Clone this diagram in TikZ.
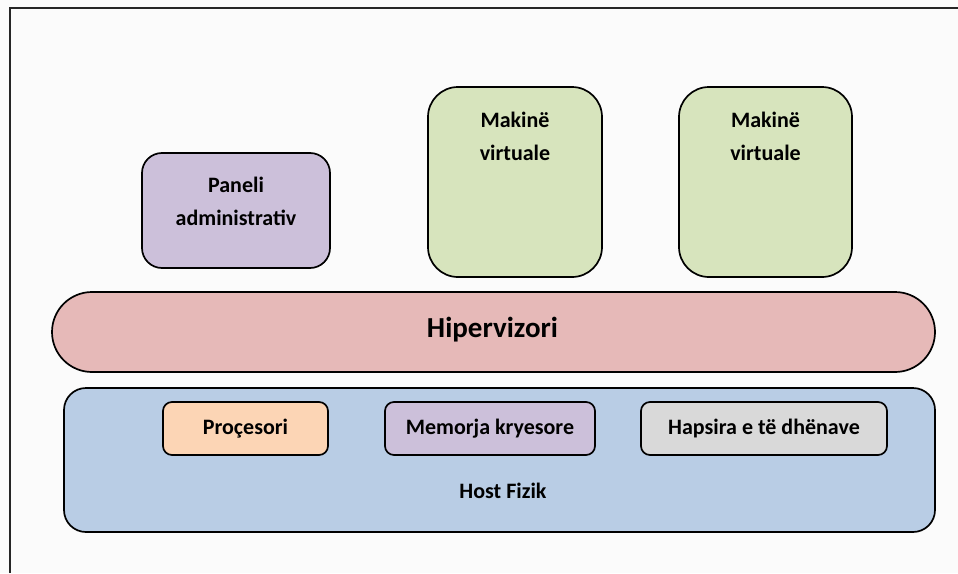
\documentclass[tikz,border=0pt]{standalone}
\usepackage{fontspec}
\setmainfont{Carlito}
\definecolor{cpurple}{HTML}{CCC0DA}
\definecolor{cgreen}{HTML}{D7E4BD}
\definecolor{cred}{HTML}{E6B9B8}
\definecolor{cblue}{HTML}{B9CDE5}
\definecolor{corange}{HTML}{FCD5B5}
\definecolor{cgray}{HTML}{D9D9D9}
\definecolor{cbg}{HTML}{FBFBFB}
\tikzset{
  box/.style={draw=black, line width=1.7pt, rectangle, inner sep=0pt},
  lbl/.style={font=\bfseries\fontsize{22}{33}\selectfont, align=center, inner sep=0pt},
  big/.style={font=\bfseries\fontsize{29}{34}\selectfont},
}
\begin{document}
\begin{tikzpicture}[x=1pt,y=-1pt]
\fill[cbg] (0,0) rectangle (958,573);
\useasboundingbox (0,0) rectangle (958,573);
\coordinate (ftl) at (9.5,7.5);
\coordinate (fbl) at (9.5,573);
\coordinate (ftr) at (958,7.5);
\draw[line width=2pt, draw=black!85] (fbl) -- (ftl) -- (ftr);
% upper boxes
\node[box, fill=cpurple, rounded corners=20pt, minimum width=188pt, minimum height=115pt] (panel) at (236,210.5) {};
\node[lbl] (paneltxt) at (236,201.5) {Paneli\\administrativ};
\node[box, fill=cgreen, rounded corners=30pt, minimum width=174pt, minimum height=190pt] (vm1) at (515,182) {};
\node[lbl] (vm1txt) at (515,136) {Makinë\\virtuale};
\node[box, fill=cgreen, rounded corners=30pt, minimum width=173pt, minimum height=190pt] (vm2) at (765.5,182) {};
\node[lbl] (vm2txt) at (765.5,136) {Makinë\\virtuale};
% hypervisor
\node[box, fill=cred, rounded corners=40pt, minimum width=883pt, minimum height=80pt, big] (hyp) at (493.5,332) {};
\node[big, inner sep=0pt] (hyptxt) at (492.5,330) {Hipervizori};
% host
\node[box, fill=cblue, rounded corners=22pt, minimum width=871pt, minimum height=144pt] (host) at (499.5,460) {};
\node[lbl] (hosttxt) at (503,491) {Host Fizik};
\node[box, fill=corange, rounded corners=9pt, minimum width=165pt, minimum height=53pt, lbl] (cpu) at (245.5,428.5) {Proçesori};
\node[box, fill=cpurple, rounded corners=9pt, minimum width=210pt, minimum height=53pt, lbl] (mem) at (490,428.5) {Memorja kryesore};
\node[box, fill=cgray, rounded corners=9pt, minimum width=246pt, minimum height=53pt, lbl] (disk) at (764,428.5) {Hapsira e të dhënave};
\end{tikzpicture}
\end{document}
